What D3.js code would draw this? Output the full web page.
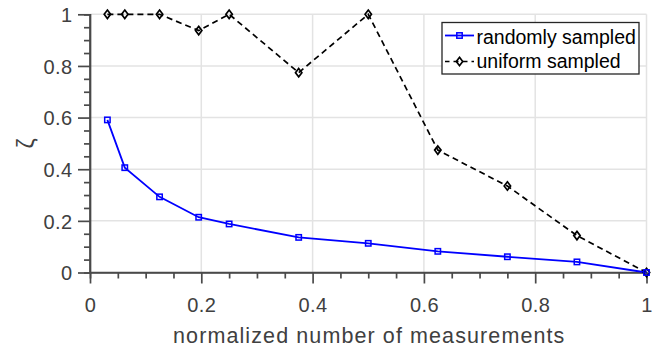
<!DOCTYPE html>
<html><head><meta charset="utf-8">
<script src="https://cdn.jsdelivr.net/npm/d3@7"></script>
<style>body{margin:0;background:#fff}svg{display:block}</style>
</head><body>
<svg id="c" width="669" height="348"></svg>
<script>
const xRandom = [0.03125, 0.0625, 0.125, 0.1953, 0.25, 0.375, 0.5, 0.625, 0.75, 0.875, 1.0];
const yRandom = [0.591, 0.406, 0.293, 0.214, 0.188, 0.136, 0.113, 0.082, 0.061, 0.041, 0.0];
const xUniform = [0.03125, 0.0625, 0.125, 0.1953, 0.25, 0.375, 0.5, 0.625, 0.75, 0.875, 1.0];
const yUniform = [1.0, 1.0, 1.0, 0.937, 1.0, 0.774, 1.0, 0.474, 0.335, 0.143, 0.0];
const xTicks = [0, 0.2, 0.4, 0.6, 0.8, 1];
const yTicks = [0, 0.2, 0.4, 0.6, 0.8, 1];
const seriesNames = ["randomly sampled", "uniform sampled"];
const xLabel = "normalized number of measurements";
const yLabel = "ζ";

const svg = d3.select("#c");
const font = "'Liberation Sans', Arial, Helvetica, sans-serif";
const L = 90, R = 646.5, T = 14.3, B = 272.5;
const x = d3.scaleLinear().domain([0, 1]).range([L, R]);
const y = d3.scaleLinear().domain([0, 1]).range([B, T]);
const axisColor = "#4a4a4a";
const textColor = "#404040";

// grid
const g = svg.append("g");
g.selectAll(".gx").data(xTicks.filter(d => d > 0)).join("line")
  .attr("x1", d => x(d)).attr("x2", d => x(d)).attr("y1", T).attr("y2", B)
  .attr("stroke", "#e3e3e3").attr("stroke-width", 1.5);
g.selectAll(".gy").data(yTicks.filter(d => d > 0)).join("line")
  .attr("y1", d => y(d)).attr("y2", d => y(d)).attr("x1", L).attr("x2", R)
  .attr("stroke", "#e3e3e3").attr("stroke-width", 1.5);

// minor ticks
const minor = d3.range(0, 1.0001, 0.05).filter(v => Math.abs(Math.round(v * 5) - v * 5) > 1e-6);
const xAxisMinor = d3.axisBottom(x).tickValues(minor).tickSize(6).tickFormat("");
const yAxisMinor = d3.axisLeft(y).tickValues(minor).tickSize(6).tickFormat("");
const fmt = d => String(+d.toFixed(1));
const xAxis = d3.axisBottom(x).tickValues(xTicks).tickSize(11).tickFormat(fmt);
const yAxis = d3.axisLeft(y).tickValues(yTicks).tickSize(12).tickFormat(fmt);

function styleAxis(sel) {
  sel.select(".domain").attr("stroke", axisColor).attr("stroke-width", 1.7);
  sel.selectAll(".tick line").attr("stroke", axisColor).attr("stroke-width", 1.7);
  sel.selectAll(".tick text").attr("fill", textColor).style("font-family", font)
    .style("font-size", "20px").style("letter-spacing", "0.4px");
}
svg.append("g").attr("transform", `translate(0,${B})`).call(xAxisMinor).call(styleAxis);
svg.append("g").attr("transform", `translate(${L},0)`).call(yAxisMinor).call(styleAxis);
const xa = svg.append("g").attr("transform", `translate(0,${B})`).call(xAxis).call(styleAxis);
const ya = svg.append("g").attr("transform", `translate(${L},0)`).call(yAxis).call(styleAxis);
xa.select(".domain").attr("d", `M${L},0H${R}`);
ya.select(".domain").attr("d", `M0,${B}V${T}`);
xa.selectAll(".tick text").attr("dy", null).attr("y", 312.3 - B);
ya.selectAll(".tick text").attr("x", -17.5).attr("dy", "0.36em");

// labels
svg.append("text").attr("x", (L + R) / 2 + 1).attr("y", 343).attr("text-anchor", "middle")
  .attr("fill", textColor).style("font-family", font).style("font-size", "21.5px")
  .style("letter-spacing", "1.1px").text(xLabel);
svg.append("text").attr("transform", `translate(34,${(T + B) / 2}) rotate(-90)`).attr("text-anchor", "middle")
  .attr("fill", textColor).style("font-family", font).style("font-size", "23px").text(yLabel);

// lines
const randomData = xRandom.map((v, i) => [v, yRandom[i]]);
const uniformData = xUniform.map((v, i) => [v, yUniform[i]]);
const line = d3.line().x(d => x(d[0])).y(d => y(d[1]));

svg.append("path").datum(uniformData).attr("d", line).attr("fill", "none")
  .attr("stroke", "#000").attr("stroke-width", 1.7).attr("stroke-dasharray", "6,4");
svg.append("path").datum(randomData).attr("d", line).attr("fill", "none")
  .attr("stroke", "#0000ff").attr("stroke-width", 1.8);

const diamond = (cx, cy) => `M${cx},${cy - 4.2}L${cx + 3.2},${cy}L${cx},${cy + 4.2}L${cx - 3.2},${cy}Z`;
svg.selectAll(".dm").data(uniformData).join("path")
  .attr("d", d => diamond(x(d[0]), y(d[1])))
  .attr("fill", "none").attr("stroke", "#000").attr("stroke-width", 1.7);
svg.selectAll(".sq").data(randomData).join("rect")
  .attr("x", d => x(d[0]) - 2.7).attr("y", d => y(d[1]) - 2.7)
  .attr("width", 5.4).attr("height", 5.4)
  .attr("fill", "none").attr("stroke", "#0000ff").attr("stroke-width", 1.5);

// legend
const lg = svg.append("g");
lg.append("rect").attr("x", 442).attr("y", 22.5).attr("width", 197).attr("height", 51.5)
  .attr("fill", "#fff").attr("stroke", "#262626").attr("stroke-width", 1.3);
const lgY = [35.5, 61.5];
lg.append("line").attr("x1", 445).attr("x2", 474).attr("y1", lgY[0]).attr("y2", lgY[0])
  .attr("stroke", "#0000ff").attr("stroke-width", 1.8);
lg.append("rect").attr("x", 459.5 - 2.7).attr("y", lgY[0] - 2.7).attr("width", 5.4).attr("height", 5.4)
  .attr("fill", "none").attr("stroke", "#0000ff").attr("stroke-width", 1.5);
lg.append("line").attr("x1", 445).attr("x2", 474).attr("y1", lgY[1]).attr("y2", lgY[1])
  .attr("stroke", "#000").attr("stroke-width", 1.7).attr("stroke-dasharray", "5,4").attr("stroke-dashoffset", 0.5);
lg.append("path").attr("d", diamond(459.5, lgY[1])).attr("fill", "none").attr("stroke", "#000").attr("stroke-width", 1.7);
lg.selectAll(".lt").data(seriesNames).join("text")
  .attr("x", 476.5).attr("y", (d, i) => [44, 68][i])
  .attr("fill", "#000").style("font-family", font).style("font-size", "19.5px").text(d => d);
</script>
</body></html>
